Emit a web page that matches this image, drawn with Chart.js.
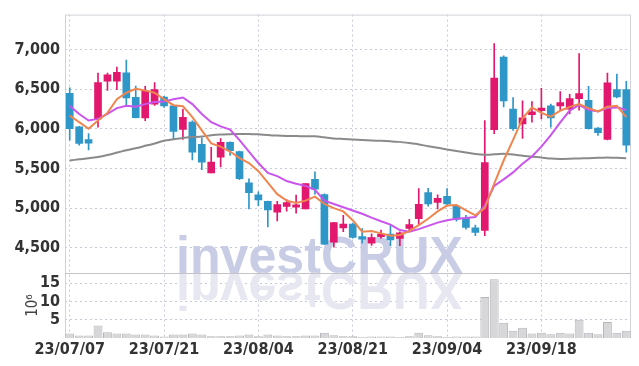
<!DOCTYPE html>
<html>
<head>
<meta charset="utf-8">
<script src="https://cdn.jsdelivr.net/npm/chart.js@4.4.0/dist/chart.umd.min.js"></script>
<style>
  html, body { margin: 0; padding: 0; background: #fff; }
</style>
</head>
<body>
<canvas id="stockChart" width="639" height="366"></canvas>
<script>
// trading days (YY/MM/DD)
const dates = [
  '23/07/07','23/07/10','23/07/11','23/07/12','23/07/13','23/07/14','23/07/17','23/07/18','23/07/19','23/07/20',
  '23/07/21','23/07/24','23/07/25','23/07/26','23/07/27','23/07/28','23/07/31','23/08/01','23/08/02','23/08/03',
  '23/08/04','23/08/07','23/08/08','23/08/09','23/08/10','23/08/11','23/08/14','23/08/16','23/08/17','23/08/18',
  '23/08/21','23/08/22','23/08/23','23/08/24','23/08/25','23/08/28','23/08/29','23/08/30','23/08/31','23/09/01',
  '23/09/04','23/09/05','23/09/06','23/09/07','23/09/08','23/09/11','23/09/12','23/09/13','23/09/14','23/09/15',
  '23/09/18','23/09/19','23/09/20','23/09/21','23/09/22','23/09/25','23/09/26','23/09/27','23/10/04','23/10/05'
];

const opens = [
  6447, 6026, 5864, 6124, 6599, 6599, 6707, 6397, 6137, 6311,
  6400, 6290, 5993, 6084, 5803, 5444, 5642, 5828, 5713, 5320,
  5168, 5085, 4949, 5020, 5011, 4990, 5362, 5172, 4570, 4751,
  4800, 4640, 4557, 4640, 4673, 4619, 4743, 4866, 5197, 5073,
  5147, 5023, 4875, 4751, 4718, 5989, 6905, 6249, 6063, 6178,
  6228, 6290, 6290, 6249, 6381, 6360, 6010, 5865, 6496, 6496
];
const highs = [
  6517, 6030, 5939, 6703, 6703, 6777, 6868, 6540, 6537, 6583,
  6410, 6300, 6249, 6100, 5886, 5766, 5877, 5835, 5720, 5370,
  5206, 5090, 5085, 5106, 5163, 5308, 5457, 5180, 4820, 4908,
  4810, 4743, 4677, 4723, 4785, 4700, 4859, 5246, 5250, 5168,
  5246, 5030, 4908, 4785, 6104, 7074, 6921, 6394, 6352, 6344,
  6509, 6311, 6468, 6434, 6950, 6537, 6015, 6703, 6691, 6599
];
const lows = [
  5857, 5795, 5733, 6022, 6484, 6493, 6290, 6137, 6104, 6294,
  6270, 5865, 5865, 5609, 5485, 5444, 5519, 5663, 5360, 4990,
  5032, 4764, 4838, 4962, 4937, 4990, 5176, 4540, 4508, 4702,
  4620, 4557, 4528, 4619, 4525, 4525, 4702, 4792, 5023, 4990,
  5040, 4834, 4735, 4652, 4652, 5939, 6277, 5980, 5878, 6084,
  6125, 6022, 6236, 6187, 6236, 5995, 5918, 5860, 6390, 5704
];
const closes = [
  6000, 5816, 5819, 6583, 6682, 6711, 6389, 6141, 6475, 6496,
  6290, 5968, 6146, 5704, 5580, 5580, 5828, 5725, 5370, 5196,
  5102, 4978, 5045, 5070, 5040, 5308, 5238, 4545, 4817, 4800,
  4631, 4607, 4628, 4673, 4599, 4689, 4792, 5048, 5052, 5123,
  5052, 4859, 4755, 4693, 5573, 6641, 6352, 6001, 6137, 6215,
  6261, 6137, 6332, 6381, 6443, 6001, 5952, 6579, 6401, 5795
];

// moving averages
const ma5 = [
  6166, 6084, 6001, 6104, 6200, 6373, 6455, 6505, 6484, 6455,
  6373, 6298, 6285, 6146, 5980, 5816, 5775, 5713, 5630, 5568,
  5465, 5320, 5176, 5094, 5064, 5094, 5144, 5052, 4999, 4958,
  4847, 4702, 4710, 4681, 4652, 4661, 4710, 4785, 4866, 4958,
  5032, 5040, 4970, 4908, 5000, 5310, 5600, 5860, 6130, 6270,
  6200, 6154, 6228, 6277, 6311, 6261, 6220, 6277, 6290, 6146
];
const ma10 = [
  6290, 6187, 6104, 6125, 6187, 6261, 6290, 6277, 6311, 6339,
  6344, 6373, 6394, 6311, 6187, 6084, 6030, 5989, 5857, 5713,
  5568, 5444, 5403, 5341, 5308, 5280, 5230, 5094, 5052, 5011,
  4970, 4928, 4879, 4834, 4792, 4723, 4702, 4735, 4776, 4817,
  4847, 4866, 4875, 4887, 5032, 5280, 5362, 5450, 5560, 5650,
  5775, 5920, 6080, 6230, 6300, 6240, 6220, 6261, 6270, 6236
];
const maLong = [
  5601, 5615, 5628, 5645, 5670, 5700, 5730, 5755, 5785, 5815,
  5849, 5868, 5885, 5895, 5902, 5918, 5928, 5932, 5935, 5935,
  5930, 5922, 5914, 5910, 5908, 5907, 5905, 5892, 5878, 5872,
  5866, 5860, 5853, 5848, 5842, 5835, 5820, 5803, 5780, 5762,
  5740, 5720, 5700, 5682, 5672, 5678, 5684, 5675, 5660, 5648,
  5638, 5625, 5620, 5622, 5626, 5630, 5634, 5639, 5634, 5630
];

// volume, millions of shares
const volumes = [
  1.2, 0.65, 0.65, 3.45, 1.6, 1.2, 1.2, 0.95, 0.95, 0.65,
  0.4, 0.95, 0.95, 1.2, 0.95, 0.5, 0.5, 0.5, 0.65, 0.95,
  0.5, 0.95, 0.65, 0.5, 0.5, 0.65, 0.65, 1.45, 0.75, 0.5,
  0.5, 0.3, 0.4, 0.4, 0.4, 0.3, 0.5, 1.45, 0.75, 0.5,
  0.3, 0.4, 0.4, 0.4, 11.2, 16.1, 4.2, 2.0, 2.8, 1.2,
  1.45, 1.0, 1.45, 1.2, 5.0, 1.45, 1.0, 4.4, 1.45, 2.0
];

const priceTicks = [4500, 5000, 5500, 6000, 6500, 7000];
const volumeTicks = [5, 10, 15];

const UP = '#e2186e';
const DOWN = '#2f96c8';
const GRID = '#c6c9de';
const FONT = '"Liberation Sans Narrow", "DejaVu Sans Condensed", sans-serif';
const LABEL = '#333333';

const candleColors = opens.map((o, i) => closes[i] >= o ? UP : DOWN);

// frame lines + watermark under the marks
const framePlugin = {
  id: 'frame',
  beforeDatasetsDraw(chart) {
    const {ctx, chartArea: a, scales} = chart;
    const sep = scales.y.bottom;

    ctx.save();
    const text = 'investCRUX';
    ctx.font = 'bold 52px "Liberation Sans", sans-serif';
    const w = ctx.measureText(text).width;
    ctx.translate(chart.width / 2, sep);
    ctx.scale(287 / w, 1);
    ctx.textAlign = 'center';
    ctx.textBaseline = 'alphabetic';
    ctx.fillStyle = '#c8cde5';
    ctx.fillText(text, 0, 0);
    ctx.scale(1, -1);
    ctx.fillStyle = '#e6e7f0';
    ctx.fillText(text, 0, 0);
    ctx.restore();

    ctx.save();
    ctx.lineWidth = 1;
    ctx.strokeStyle = '#d2d3da';
    ctx.beginPath();
    ctx.moveTo(a.left + 0.5, a.top);
    ctx.lineTo(a.left + 0.5, a.bottom);
    ctx.moveTo(a.right - 0.5, a.top);
    ctx.lineTo(a.right - 0.5, a.bottom);
    ctx.moveTo(a.left, a.top + 0.5);
    ctx.lineTo(a.right, a.top + 0.5);
    ctx.stroke();
    ctx.strokeStyle = '#c4c4c8';
    ctx.beginPath();
    ctx.moveTo(a.left, Math.round(sep) + 0.5);
    ctx.lineTo(a.right, Math.round(sep) + 0.5);
    ctx.stroke();
    ctx.restore();
  }
};

new Chart(document.getElementById('stockChart'), {
  type: 'bar',
  data: {
    labels: dates,
    datasets: [
      { type: 'line', label: 'MA5', data: ma5, yAxisID: 'y', borderColor: '#ef8650',
        borderWidth: 2, pointRadius: 0, tension: 0, order: 0 },
      { type: 'line', label: 'MA10', data: ma10, yAxisID: 'y', borderColor: '#c955ec',
        borderWidth: 2, pointRadius: 0, tension: 0, order: 0 },
      { type: 'line', label: 'MA long', data: maLong, yAxisID: 'y', borderColor: '#8a8a8a',
        borderWidth: 2, pointRadius: 0, tension: 0.2, order: 0 },
      { label: 'body', data: opens.map((o, i) => [o, closes[i]]), yAxisID: 'y',
        backgroundColor: candleColors, barThickness: 7, grouped: false, minBarLength: 1, order: 1 },
      { label: 'wick', data: lows.map((l, i) => [l, highs[i]]), yAxisID: 'y',
        backgroundColor: candleColors, barThickness: 1, grouped: false, order: 2 },
      { label: 'volume', data: volumes, yAxisID: 'yv',
        backgroundColor: '#d7d7da', borderColor: '#b6b6ba', borderWidth: 1,
        barPercentage: 1, categoryPercentage: 0.94, grouped: false, order: 3 }
    ]
  },
  options: {
    responsive: false,
    animation: false,
    layout: { padding: { top: 9, right: 8, left: 0, bottom: 0 } },
    plugins: {
      legend: { display: false },
      tooltip: { enabled: false }
    },
    scales: {
      x: {
        type: 'category',
        offset: true,
        grid: {
          offset: false,
          drawTicks: false,
          color: ctx => ctx.index % 10 === 0 ? GRID : 'transparent'
        },
        border: { display: false, dash: [2, 3] },
        ticks: {
          autoSkip: false,
          maxRotation: 0,
          padding: 2,
          color: LABEL,
          font: { family: FONT, size: 16, weight: 'bold' },
          callback: (v, i) => i % 10 === 0 ? dates[i] : ''
        },
        afterFit: s => { s.height = 28; }
      },
      y: {
        type: 'linear',
        position: 'left',
        stack: 'panels',
        stackWeight: 263,
        weight: 1,
        min: 4180,
        max: 7440,
        grid: { drawTicks: false, color: GRID },
        border: { display: false, dash: [2, 3] },
        ticks: {
          autoSkip: false,
          padding: 5,
          color: LABEL,
          font: { family: FONT, size: 16, weight: 'bold' },
          callback: v => v.toLocaleString('en-US')
        },
        afterBuildTicks: s => { s.ticks = priceTicks.map(v => ({ value: v })); },
        afterFit: s => { s.width = 65; }
      },
      yv: {
        type: 'linear',
        position: 'left',
        stack: 'panels',
        stackWeight: 66,
        weight: 0,
        min: 0,
        max: 17.75,
        grid: { drawTicks: false, color: GRID },
        border: { display: false, dash: [2, 3] },
        ticks: {
          autoSkip: false,
          padding: 5,
          color: LABEL,
          font: { family: FONT, size: 16, weight: 'bold' },
          callback: v => v
        },
        afterBuildTicks: s => { s.ticks = volumeTicks.map(v => ({ value: v })); },
        title: {
          display: true,
          text: '10⁶',
          color: '#444',
          font: { family: FONT, size: 15 },
          padding: { top: 24, bottom: 0 }
        },
        afterFit: s => { s.width = 65; }
      }
    }
  },
  plugins: [framePlugin]
});
</script>
</body>
</html>
